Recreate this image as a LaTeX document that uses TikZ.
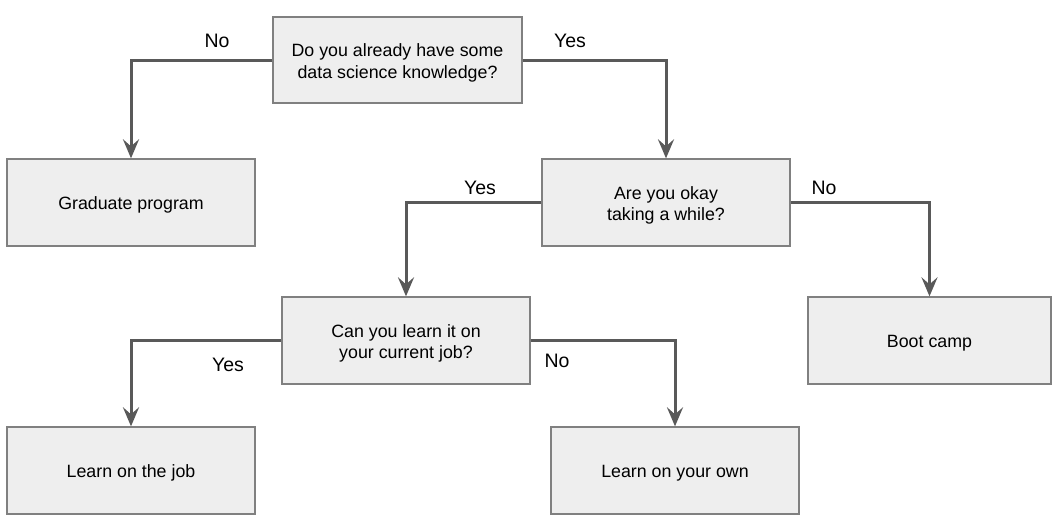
\documentclass[tikz,border=0pt]{standalone}
\usepackage{fontspec}
\setmainfont{Liberation Sans}
\usetikzlibrary{arrows.meta}
\definecolor{boxfill}{HTML}{EEEEEE}
\definecolor{boxline}{HTML}{808080}
\definecolor{conn}{HTML}{595959}
\newcommand{\topstrut}{\rule{0pt}{18.5pt}}
\begin{document}
\begin{tikzpicture}[x=1pt,y=-1pt,
  box/.style={draw=boxline,line width=1.3pt,fill=boxfill,minimum width=248pt,minimum height=87pt,align=center,inner sep=0pt,font=\fontsize{17.8}{21.7}\selectfont},
  conn/.style={draw=conn,line width=3pt,-{Stealth[length=19pt,width=16pt,inset=7pt]}},
  lbl/.style={font=\fontsize{19.5}{22}\selectfont,inner sep=0pt}]
\useasboundingbox (0,0) rectangle (1060,525);
\node[box,minimum width=249pt,minimum height=86pt] (q1) at (397.5,60) {\topstrut Do you already have some\\data science knowledge?};
\node[box] (grad) at (131,202.5) {\topstrut Graduate program};
\node[box] (q2) at (666,202.5) {\topstrut Are you okay\\taking a while?};
\node[box] (q3) at (406,340.5) {\topstrut Can you learn it on\\your current job?};
\node[box,minimum width=243pt] (boot) at (929.5,340.5) {\topstrut Boot camp};
\node[box] (job) at (131,470.5) {\topstrut Learn on the job};
\node[box] (own) at (675,470.5) {\topstrut Learn on your own};
\draw[conn] (q1.west) -| (grad.north);
\draw[conn] (q1.east) -| (q2.north);
\draw[conn] (q2.west) -| (q3.north);
\draw[conn] (q2.east) -| (boot.north);
\draw[conn] (q3.west) -| (job.north);
\draw[conn] (q3.east) -| (own.north);
\node[lbl] (l1) at (217,41) {No};
\node[lbl] (l2) at (570,41) {Yes};
\node[lbl] (l3) at (480,188) {Yes};
\node[lbl] (l4) at (824,188) {No};
\node[lbl] (l5) at (228,365) {Yes};
\node[lbl] (l6) at (557,361) {No};
\end{tikzpicture}
\end{document}
